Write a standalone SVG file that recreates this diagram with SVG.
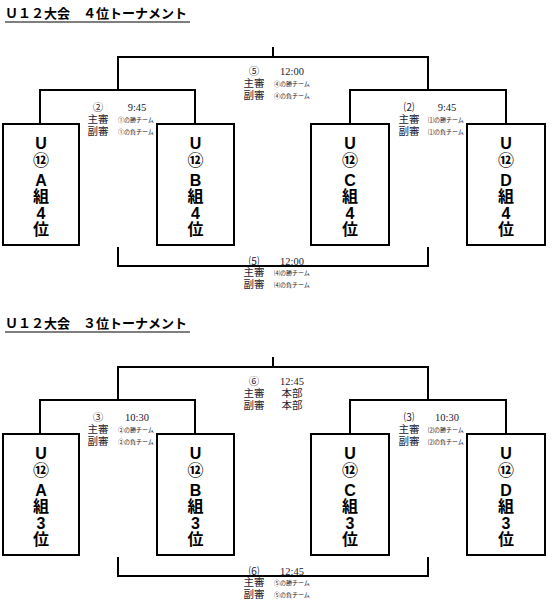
<svg xmlns="http://www.w3.org/2000/svg" width="555" height="605" viewBox="0 0 555 605">
<style>
.t{font-family:"Liberation Sans","Noto Sans CJK JP",sans-serif;font-weight:bold;font-size:13px;fill:#000}
.ln{stroke:#000;stroke-width:2;fill:none}
.box{stroke:#000;stroke-width:2;fill:#fff}
.bx{font-family:"Liberation Sans","Noto Sans CJK JP",sans-serif;font-weight:bold;font-size:16px;text-anchor:middle;fill:#000}
.lb{font-family:"Liberation Serif","Noto Sans CJK JP",serif;font-size:10.5px;fill:#1a1a33}
.sm{font-family:"Liberation Serif","Noto Sans CJK JP",serif;font-size:6px;fill:#1a1a33}
.c{text-anchor:middle}
</style>
<rect width="555" height="605" fill="#fff"/>

<!-- 4th place tournament -->
<g id="title4">
  <text class="t" x="5" y="18">Ｕ１２大会　４位トーナメント</text>
  <line x1="5" y1="22" x2="190" y2="22" stroke="#000" stroke-width="1.2"/>
</g>
<g id="connectors4">
  <path class="ln" d="M273,47V57M118,90V57H428V90M40,124V90H195V124M350,124V90H506V124M118,247V266H428V247"/>
</g>
<g id="boxA4"><rect class="box" x="3" y="124" width="76" height="121"/>
  <text class="bx" x="41" y="149">U</text><text class="bx" x="41" y="166">⑫</text><text class="bx" x="41" y="186">A</text><text class="bx" x="41" y="202">組</text><text class="bx" x="41" y="219">4</text><text class="bx" x="41" y="235">位</text></g>
<g id="boxB4"><rect class="box" x="157" y="124" width="77" height="121"/>
  <text class="bx" x="195.5" y="149">U</text><text class="bx" x="195.5" y="166">⑫</text><text class="bx" x="195.5" y="186">B</text><text class="bx" x="195.5" y="202">組</text><text class="bx" x="195.5" y="219">4</text><text class="bx" x="195.5" y="235">位</text></g>
<g id="boxC4"><rect class="box" x="311" y="124" width="78" height="121"/>
  <text class="bx" x="350" y="149">U</text><text class="bx" x="350" y="166">⑫</text><text class="bx" x="350" y="186">C</text><text class="bx" x="350" y="202">組</text><text class="bx" x="350" y="219">4</text><text class="bx" x="350" y="235">位</text></g>
<g id="boxD4"><rect class="box" x="467" y="124" width="78" height="121"/>
  <text class="bx" x="506" y="149">U</text><text class="bx" x="506" y="166">⑫</text><text class="bx" x="506" y="186">D</text><text class="bx" x="506" y="202">組</text><text class="bx" x="506" y="219">4</text><text class="bx" x="506" y="235">位</text></g>
<g id="lbl4top">
  <text class="lb c" x="254" y="75">⑤</text><text class="lb c" x="292" y="75">12:00</text>
  <text class="lb c" x="254" y="87">主審</text><text class="sm" x="274" y="86">④の勝チーム</text>
  <text class="lb c" x="254" y="99">副審</text><text class="sm" x="274" y="98">④の負チーム</text>
</g>
<g id="lbl4left">
  <text class="lb c" x="98" y="111">②</text><text class="lb c" x="137" y="111">9:45</text>
  <text class="lb c" x="98" y="123">主審</text><text class="sm" x="118" y="122">①の勝チーム</text>
  <text class="lb c" x="98" y="135">副審</text><text class="sm" x="118" y="134">①の負チーム</text>
</g>
<g id="lbl4right">
  <text class="lb c" x="409" y="111">⑵</text><text class="lb c" x="447" y="111">9:45</text>
  <text class="lb c" x="409" y="123">主審</text><text class="sm" x="428" y="122">⑴の勝チーム</text>
  <text class="lb c" x="409" y="135">副審</text><text class="sm" x="428" y="134">⑴の負チーム</text>
</g>
<g id="lbl4bot">
  <text class="lb c" x="254" y="265">⑸</text><text class="lb c" x="292" y="265">12:00</text>
  <text class="lb c" x="254" y="276">主審</text><text class="sm" x="274" y="275">⑷の勝チーム</text>
  <text class="lb c" x="254" y="288">副審</text><text class="sm" x="274" y="287">⑷の負チーム</text>
</g>

<!-- 3rd place tournament -->
<g id="title3">
  <text class="t" x="5" y="328">Ｕ１２大会　３位トーナメント</text>
  <line x1="5" y1="332" x2="190" y2="332" stroke="#000" stroke-width="1.2"/>
</g>
<g id="connectors3">
  <path class="ln" d="M273,357V367M118,400V367H428V400M40,434V400H195V434M350,434V400H506V434M118,557V576H428V557"/>
</g>
<g id="boxA3"><rect class="box" x="3" y="434" width="76" height="121"/>
  <text class="bx" x="41" y="459">U</text><text class="bx" x="41" y="476">⑫</text><text class="bx" x="41" y="496">A</text><text class="bx" x="41" y="512">組</text><text class="bx" x="41" y="529">3</text><text class="bx" x="41" y="545">位</text></g>
<g id="boxB3"><rect class="box" x="157" y="434" width="77" height="121"/>
  <text class="bx" x="195.5" y="459">U</text><text class="bx" x="195.5" y="476">⑫</text><text class="bx" x="195.5" y="496">B</text><text class="bx" x="195.5" y="512">組</text><text class="bx" x="195.5" y="529">3</text><text class="bx" x="195.5" y="545">位</text></g>
<g id="boxC3"><rect class="box" x="311" y="434" width="78" height="121"/>
  <text class="bx" x="350" y="459">U</text><text class="bx" x="350" y="476">⑫</text><text class="bx" x="350" y="496">C</text><text class="bx" x="350" y="512">組</text><text class="bx" x="350" y="529">3</text><text class="bx" x="350" y="545">位</text></g>
<g id="boxD3"><rect class="box" x="467" y="434" width="78" height="121"/>
  <text class="bx" x="506" y="459">U</text><text class="bx" x="506" y="476">⑫</text><text class="bx" x="506" y="496">D</text><text class="bx" x="506" y="512">組</text><text class="bx" x="506" y="529">3</text><text class="bx" x="506" y="545">位</text></g>
<g id="lbl3top">
  <text class="lb c" x="254" y="385">⑥</text><text class="lb c" x="292" y="385">12:45</text>
  <text class="lb c" x="254" y="397">主審</text><text class="lb c" x="292" y="397">本部</text>
  <text class="lb c" x="254" y="409">副審</text><text class="lb c" x="292" y="409">本部</text>
</g>
<g id="lbl3left">
  <text class="lb c" x="98" y="421">③</text><text class="lb c" x="137" y="421">10:30</text>
  <text class="lb c" x="98" y="433">主審</text><text class="sm" x="118" y="432">②の勝チーム</text>
  <text class="lb c" x="98" y="445">副審</text><text class="sm" x="118" y="444">②の負チーム</text>
</g>
<g id="lbl3right">
  <text class="lb c" x="409" y="421">⑶</text><text class="lb c" x="447" y="421">10:30</text>
  <text class="lb c" x="409" y="433">主審</text><text class="sm" x="428" y="432">⑵の勝チーム</text>
  <text class="lb c" x="409" y="445">副審</text><text class="sm" x="428" y="444">⑵の負チーム</text>
</g>
<g id="lbl3bot">
  <text class="lb c" x="254" y="575">⑹</text><text class="lb c" x="292" y="575">12:45</text>
  <text class="lb c" x="254" y="586">主審</text><text class="sm" x="274" y="585">⑤の勝チーム</text>
  <text class="lb c" x="254" y="598">副審</text><text class="sm" x="274" y="597">⑤の負チーム</text>
</g>
</svg>
